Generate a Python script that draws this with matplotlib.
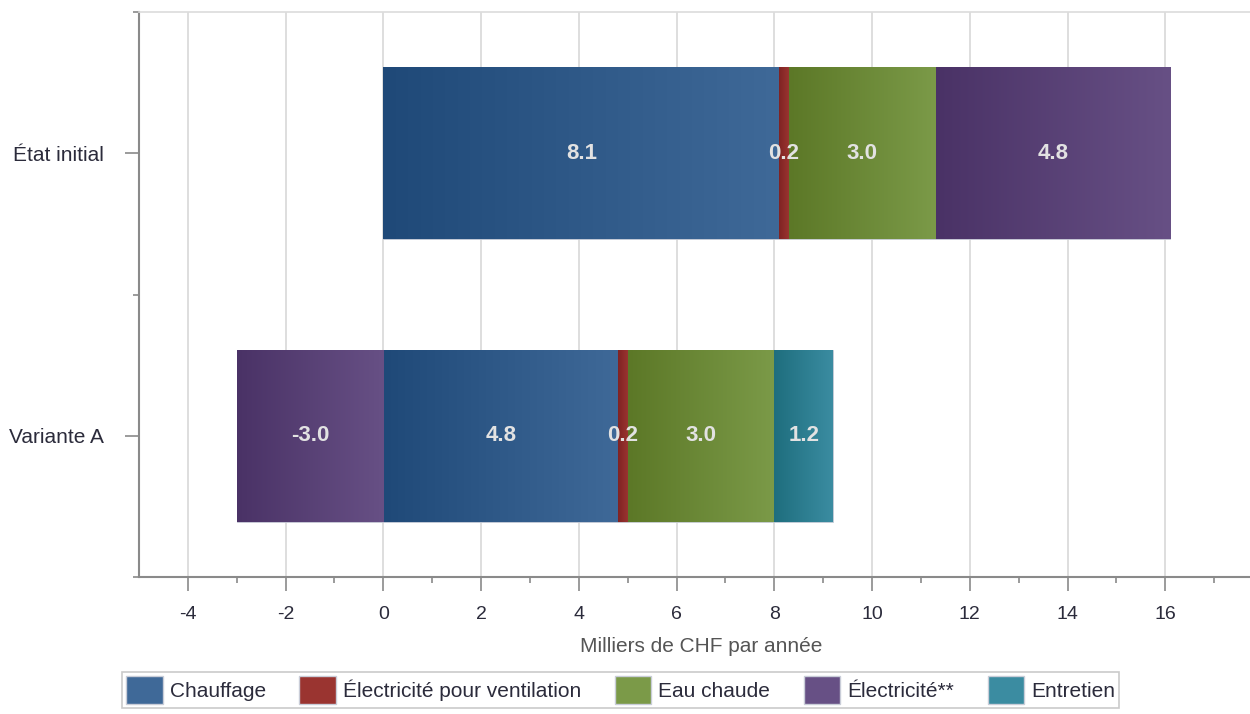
import numpy as np
import matplotlib
matplotlib.use('Agg')
import matplotlib.pyplot as plt
from matplotlib.colors import LinearSegmentedColormap
from matplotlib.patches import Patch
from matplotlib.ticker import FixedLocator

plt.rcParams['font.family'] = ['Liberation Sans', 'DejaVu Sans']
plt.rcParams['axes.unicode_minus'] = False

scenarios = ['État initial', 'Variante A']
categories = ['Chauffage', 'Électricité pour ventilation', 'Eau chaude', 'Électricité**', 'Entretien']

# costs in thousands of CHF per year, one list per category (scenario order)
chauffage = [8.1, 4.8]
ventilation = [0.2, 0.2]
eau_chaude = [3.0, 3.0]
electricite = [4.8, -3.0]
entretien = [0.0, 1.2]

# (dark left, light right) shades for each category
shades = {
    'Chauffage': ('#1f4978', '#3f6998'),
    'Électricité pour ventilation': ('#7f2323', '#9a3430'),
    'Eau chaude': ('#5c7827', '#7b9a48'),
    'Électricité**': ('#4a3266', '#675085'),
    'Entretien': ('#1e6e7e', '#3b8ca1'),
}

series = {
    'Chauffage': chauffage,
    'Électricité pour ventilation': ventilation,
    'Eau chaude': eau_chaude,
    'Électricité**': electricite,
    'Entretien': entretien,
}

fig = plt.figure(figsize=(12.5, 7.14), dpi=100)
ax = fig.add_axes([139 / 1250, 1 - 577 / 714, 1124 / 1250, 565 / 714])

ypos = np.arange(len(scenarios))
pos_left = np.zeros(len(scenarios))
neg_left = np.zeros(len(scenarios))
gradient = np.linspace(0, 1, 256).reshape(1, -1)

for cat in categories:
    vals = np.array(series[cat], dtype=float)
    left = np.where(vals >= 0, pos_left, neg_left)
    dark, light = shades[cat]
    bars = ax.barh(ypos, vals, left=left, height=0.61, color=light,
                   edgecolor='#c9cdd8', linewidth=0.6, zorder=2)
    cmap = LinearSegmentedColormap.from_list(cat, [dark, light])
    for patch, v in zip(bars.patches, vals):
        if v == 0:
            patch.set_visible(False)
            continue
        bb = patch.get_bbox()
        x0, x1 = sorted([bb.x0, bb.x1])
        y0, y1 = sorted([bb.y0, bb.y1])
        im = ax.imshow(gradient, cmap=cmap, extent=(x0, x1, y0, y1),
                       aspect='auto', zorder=2.5, interpolation='bilinear')
        im.set_clip_path(patch)
        ax.text((x0 + x1) / 2, (y0 + y1) / 2, f'{v:.1f}', ha='center', va='center',
                color='#e2e2e2', fontsize=16, fontweight='bold', zorder=4)
    pos_left = pos_left + np.where(vals >= 0, vals, 0)
    neg_left = neg_left + np.where(vals < 0, vals, 0)

ax.set_xlim(-5, 18)
ax.set_ylim(1.5, -0.5)

ax.set_xticks(np.arange(-4, 17, 2))
ax.xaxis.set_minor_locator(FixedLocator(np.arange(-3, 18, 2)))
ax.set_yticks(ypos)
ax.set_yticklabels(scenarios)
ax.yaxis.set_minor_locator(FixedLocator([-0.5, 0.5, 1.5]))

ax.grid(axis='x', which='major', color='#d8d8d8', linewidth=1.2, zorder=0)
ax.set_axisbelow(True)

ax.spines['right'].set_visible(False)
ax.spines['top'].set_color('#dcdcdc')
ax.spines['top'].set_linewidth(1.2)
ax.spines['left'].set_color('#8a8a8a')
ax.spines['left'].set_linewidth(1.5)
ax.spines['bottom'].set_color('#8a8a8a')
ax.spines['bottom'].set_linewidth(1.5)

ax.tick_params(axis='x', which='major', length=10, width=1.2, color='#8a8a8a',
               pad=11, labelsize=14, labelcolor='#2b2b3b')
ax.tick_params(axis='x', which='minor', length=4, width=1.2, color='#8a8a8a')
ax.tick_params(axis='y', which='major', length=10, width=1.2, color='#8a8a8a',
               pad=15, labelsize=15, labelcolor='#2b2b3b')
ax.tick_params(axis='y', which='minor', length=4, width=1.2, color='#8a8a8a')

ax.set_xlabel('Milliers de CHF par année', fontsize=15, color='#555555', labelpad=10)

handles = [Patch(facecolor=shades[c][1], edgecolor='#c9cdd8', label=c) for c in categories]
leg = fig.legend(handles=handles, loc='upper left', bbox_to_anchor=(122 / 1250, 1 - 672 / 714),
                 ncol=5, fontsize=15, frameon=True, fancybox=False, edgecolor='#bdbdbd',
                 handlelength=1.75, handleheight=1.7, handletextpad=0.35,
                 columnspacing=1.6, borderpad=0.2, borderaxespad=0)
leg.get_frame().set_linewidth(1.2)
for t in leg.get_texts():
    t.set_color('#2b2b3b')

fig.savefig('out.png', dpi=100)
